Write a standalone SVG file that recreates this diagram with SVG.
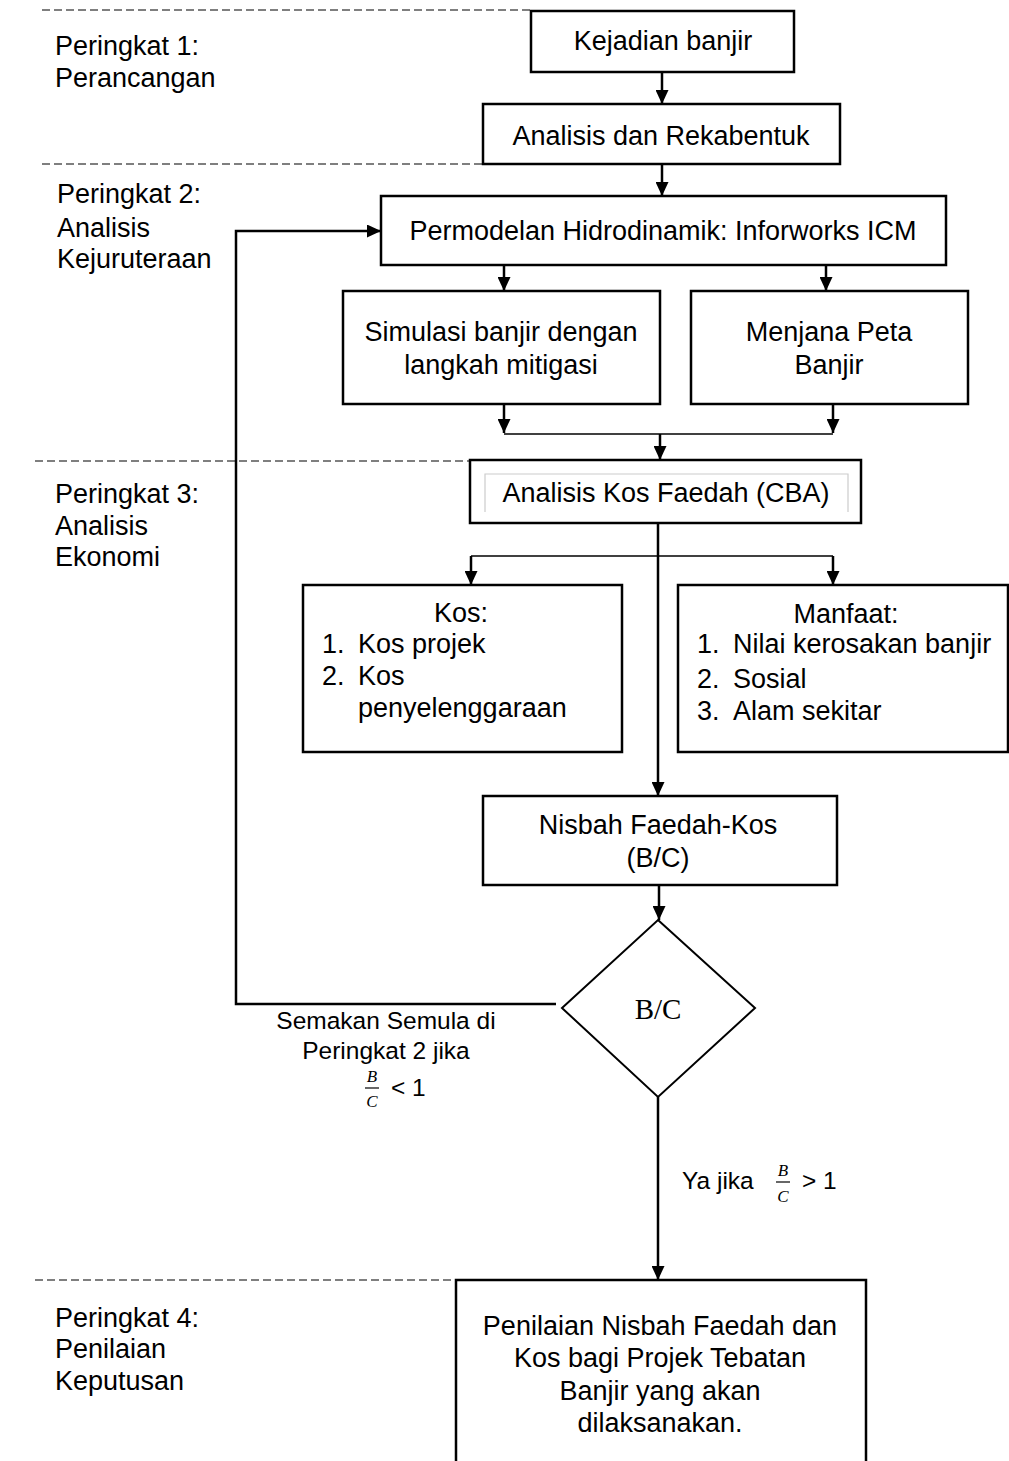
<svg xmlns="http://www.w3.org/2000/svg" width="1009" height="1461" viewBox="0 0 1009 1461">
<style>
text{font-family:"Liberation Sans",Arial,sans-serif;font-size:27px;fill:#000}
.c{text-anchor:middle}
.lbl{font-size:24.5px}
.box{fill:#fff;stroke:#000;stroke-width:2.5}
.dash{stroke:#555;stroke-width:1.3;stroke-dasharray:8,4;fill:none}
.ln{stroke:#000;stroke-width:2.5;fill:none}
.thin{stroke:#000;stroke-width:1.3;fill:none}
.frac{font-family:"Liberation Serif","Times New Roman",serif;font-style:italic;font-size:17px}
.bc{font-family:"Liberation Serif","Times New Roman",serif;font-size:29px}
</style>
<defs>
<marker id="ah" markerUnits="userSpaceOnUse" markerWidth="14" markerHeight="13" refX="14" refY="6.5" orient="auto">
<path d="M0,0 L14,6.5 L0,13 z" fill="#000"/>
</marker>
</defs>
<rect width="1009" height="1461" fill="#fff"/>

<g id="stages">
<line class="dash" x1="42" y1="10" x2="531" y2="10"/>
<line class="dash" x1="42" y1="164" x2="483" y2="164"/>
<line class="dash" x1="35" y1="461" x2="470" y2="461"/>
<line class="dash" x1="35" y1="1280" x2="456" y2="1280"/>
<text x="55" y="55">Peringkat 1:</text>
<text x="55" y="87">Perancangan</text>
<text x="57" y="203">Peringkat 2:</text>
<text x="57" y="237">Analisis</text>
<text x="57" y="268">Kejuruteraan</text>
<text x="55" y="503">Peringkat 3:</text>
<text x="55" y="535">Analisis</text>
<text x="55" y="566">Ekonomi</text>
<text x="55" y="1327">Peringkat 4:</text>
<text x="55" y="1358">Penilaian</text>
<text x="55" y="1390">Keputusan</text>
</g>

<g id="connectors">
<line class="ln" x1="662" y1="72" x2="662" y2="104" marker-end="url(#ah)"/>
<line class="ln" x1="662" y1="164" x2="662" y2="196" marker-end="url(#ah)"/>
<line class="ln" x1="504" y1="265" x2="504" y2="291" marker-end="url(#ah)"/>
<line class="ln" x1="826" y1="265" x2="826" y2="291" marker-end="url(#ah)"/>
<line class="ln" x1="504" y1="404" x2="504" y2="433" marker-end="url(#ah)"/>
<line class="ln" x1="833" y1="404" x2="833" y2="433" marker-end="url(#ah)"/>
<line class="thin" x1="504" y1="434" x2="833" y2="434"/>
<line class="ln" x1="660" y1="434" x2="660" y2="460" marker-end="url(#ah)"/>
<line class="ln" x1="658" y1="523" x2="658" y2="796" marker-end="url(#ah)"/>
<line class="thin" x1="471" y1="556" x2="833" y2="556"/>
<line class="ln" x1="471" y1="556" x2="471" y2="585" marker-end="url(#ah)"/>
<line class="ln" x1="833" y1="556" x2="833" y2="585" marker-end="url(#ah)"/>
<line class="ln" x1="659" y1="885" x2="659" y2="920" marker-end="url(#ah)"/>
<path class="ln" d="M556,1004 H236 V231 H381" marker-end="url(#ah)"/>
<line class="ln" x1="658" y1="1097" x2="658" y2="1280" marker-end="url(#ah)"/>
<text class="lbl c" x="386" y="1029">Semakan Semula di</text>
<text class="lbl c" x="386" y="1059">Peringkat 2 jika</text>
<text class="frac c" x="372" y="1082">B</text>
<line x1="365" y1="1088" x2="379" y2="1088" stroke="#000" stroke-width="1.2"/>
<text class="frac c" x="372" y="1107">C</text>
<text class="lbl" x="391" y="1096">&lt; 1</text>
<text class="lbl" x="682" y="1189">Ya jika</text>
<text class="frac c" x="783" y="1176">B</text>
<line x1="776" y1="1182" x2="790" y2="1182" stroke="#000" stroke-width="1.2"/>
<text class="frac c" x="783" y="1202">C</text>
<text class="lbl" x="802" y="1189">&gt; 1</text>
</g>

<g id="n-kejadian">
<rect class="box" x="531" y="11" width="263" height="61"/>
<text class="c" x="663" y="50">Kejadian banjir</text>
</g>
<g id="n-analisis">
<rect class="box" x="483" y="104" width="357" height="60"/>
<text class="c" x="661" y="145">Analisis dan Rekabentuk</text>
</g>
<g id="n-permodelan">
<rect class="box" x="381" y="196" width="565" height="69"/>
<text class="c" x="663" y="240">Permodelan Hidrodinamik: Inforworks ICM</text>
</g>
<g id="n-simulasi">
<rect class="box" x="343" y="291" width="317" height="113"/>
<text class="c" x="501" y="341">Simulasi banjir dengan</text>
<text class="c" x="501" y="374">langkah mitigasi</text>
</g>
<g id="n-menjana">
<rect class="box" x="691" y="291" width="277" height="113"/>
<text class="c" x="829" y="341">Menjana Peta</text>
<text class="c" x="829" y="374">Banjir</text>
</g>
<g id="n-cba">
<rect class="box" x="470" y="460" width="391" height="63"/>
<path d="M485,512 V474 H848 V512" fill="none" stroke="#ccc" stroke-width="1.2"/>
<text class="c" x="666" y="502">Analisis Kos Faedah (CBA)</text>
</g>
<g id="n-kos">
<rect class="box" x="303" y="585" width="319" height="167"/>
<text class="c" x="461" y="622">Kos:</text>
<text x="322" y="653">1.</text><text x="358" y="653">Kos projek</text>
<text x="322" y="685">2.</text><text x="358" y="685">Kos</text>
<text x="358" y="717">penyelenggaraan</text>
</g>
<g id="n-manfaat">
<rect class="box" x="678" y="585" width="330" height="167"/>
<text class="c" x="846" y="623">Manfaat:</text>
<text x="697" y="653">1.</text><text x="733" y="653">Nilai kerosakan banjir</text>
<text x="697" y="688">2.</text><text x="733" y="688">Sosial</text>
<text x="697" y="720">3.</text><text x="733" y="720">Alam sekitar</text>
</g>
<g id="n-nisbah">
<rect class="box" x="483" y="796" width="354" height="89"/>
<text class="c" x="658" y="834">Nisbah Faedah-Kos</text>
<text class="c" x="658" y="867">(B/C)</text>
</g>
<g id="n-decision">
<polygon points="658,920 755,1008 658,1097 562,1008" fill="#fff" stroke="#000" stroke-width="2"/>
<text class="bc c" x="658" y="1019">B/C</text>
</g>
<g id="n-penilaian">
<rect class="box" x="456" y="1280" width="410" height="200"/>
<text class="c" x="660" y="1335">Penilaian Nisbah Faedah dan</text>
<text class="c" x="660" y="1367">Kos bagi Projek Tebatan</text>
<text class="c" x="660" y="1400">Banjir yang akan</text>
<text class="c" x="660" y="1432">dilaksanakan.</text>
</g>
</svg>
